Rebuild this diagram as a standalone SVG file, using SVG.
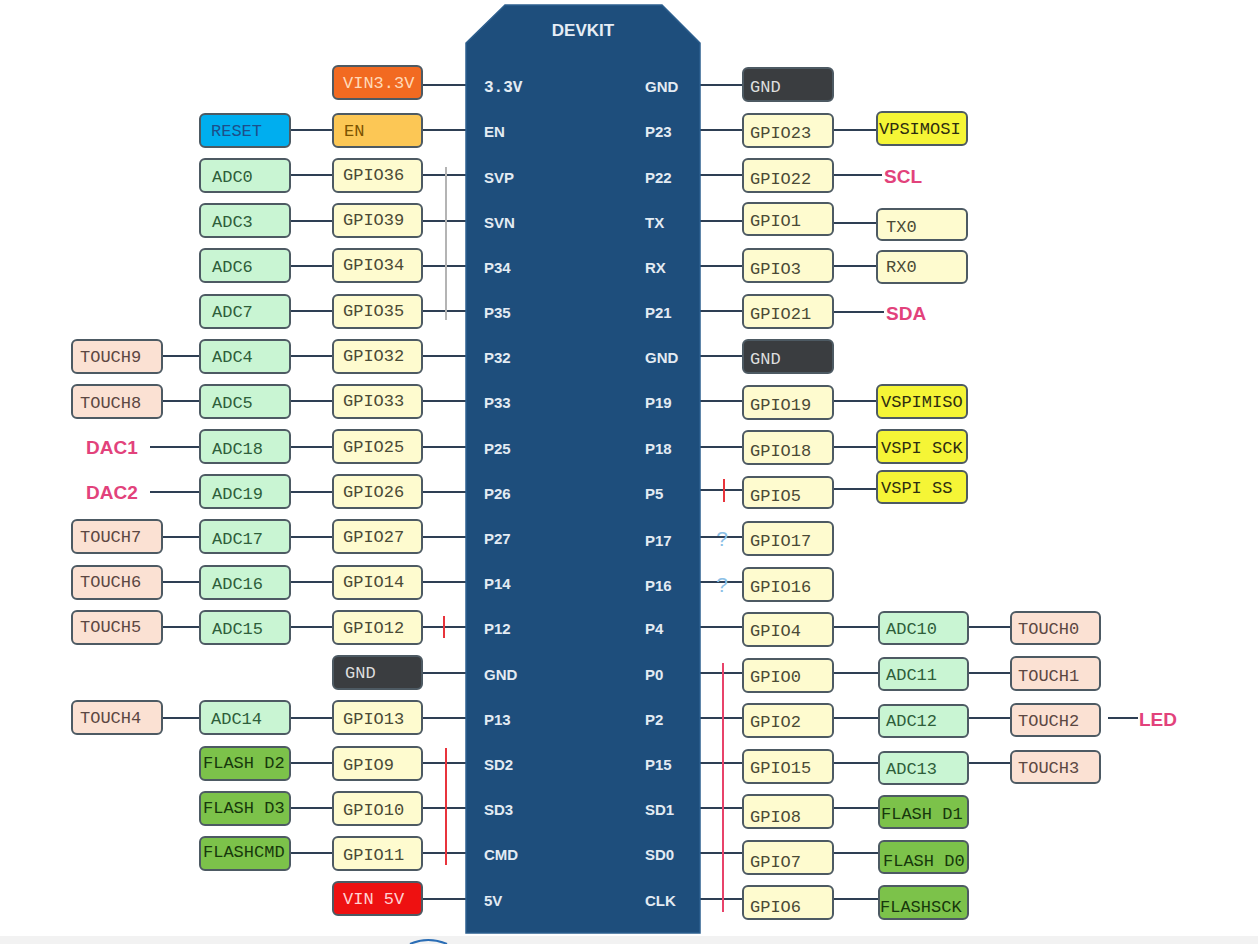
<svg xmlns="http://www.w3.org/2000/svg" width="1258" height="944" viewBox="0 0 1258 944">
<style>
.b{stroke:#4d5a63;stroke-width:2}
.t{font-family:"Liberation Mono",monospace;font-size:17px}
.pl{font-family:"Liberation Sans",Arial,sans-serif;font-size:15px;font-weight:bold;fill:#e3ebf3}
.pm{font-family:"Liberation Mono",monospace;font-size:16px;font-weight:bold;fill:#e3ebf3}
.pk{font-family:"Liberation Sans",Arial,sans-serif;font-size:19px;font-weight:bold;fill:#e2427b}
.q{font-family:"Liberation Sans",Arial,sans-serif;font-size:21px;fill:#8cc0e6}
.gpio{fill:#fefbcf}.gpiot{fill:#4a4a36}
.adc{fill:#c9f5d3}.adct{fill:#2e5e3a}
.tch{fill:#fbe1d3}.tcht{fill:#5b4742}
.fl{fill:#7cc24a}.flt{fill:#17380c}
.vs{fill:#f5f536}.vst{fill:#2d2d10}
.gnd{fill:#3a3d40}.gndt{fill:#dedede}
.c line{stroke:#2e3f54;stroke-width:2}
</style>
<rect width="1258" height="944" fill="#ffffff"/>
<rect x="0" y="936" width="1258" height="8" fill="#f2f2f2"/>
<path d="M410,944 Q428,936 447,944" fill="none" stroke="#2a6db5" stroke-width="2"/>

<g id="connectors" class="c">
<line x1="422" y1="85" x2="466" y2="85"/>
<line x1="290" y1="130" x2="333" y2="130"/><line x1="422" y1="130" x2="466" y2="130"/>
<line x1="290" y1="175" x2="333" y2="175"/><line x1="422" y1="175" x2="466" y2="175"/>
<line x1="290" y1="221" x2="333" y2="221"/><line x1="422" y1="221" x2="466" y2="221"/>
<line x1="290" y1="266" x2="333" y2="266"/><line x1="422" y1="266" x2="466" y2="266"/>
<line x1="290" y1="311" x2="333" y2="311"/><line x1="422" y1="311" x2="466" y2="311"/>
<line x1="162" y1="356" x2="200" y2="356"/><line x1="290" y1="356" x2="333" y2="356"/><line x1="422" y1="356" x2="466" y2="356"/>
<line x1="162" y1="401" x2="200" y2="401"/><line x1="290" y1="401" x2="333" y2="401"/><line x1="422" y1="401" x2="466" y2="401"/>
<line x1="150" y1="447" x2="200" y2="447"/><line x1="290" y1="447" x2="333" y2="447"/><line x1="422" y1="447" x2="466" y2="447"/>
<line x1="150" y1="492" x2="200" y2="492"/><line x1="290" y1="492" x2="333" y2="492"/><line x1="422" y1="492" x2="466" y2="492"/>
<line x1="162" y1="537" x2="200" y2="537"/><line x1="290" y1="537" x2="333" y2="537"/><line x1="422" y1="537" x2="466" y2="537"/>
<line x1="162" y1="582" x2="200" y2="582"/><line x1="290" y1="582" x2="333" y2="582"/><line x1="422" y1="582" x2="466" y2="582"/>
<line x1="162" y1="627" x2="200" y2="627"/><line x1="290" y1="627" x2="333" y2="627"/><line x1="422" y1="627" x2="466" y2="627"/>
<line x1="422" y1="673" x2="466" y2="673"/>
<line x1="162" y1="718" x2="200" y2="718"/><line x1="290" y1="718" x2="333" y2="718"/><line x1="422" y1="718" x2="466" y2="718"/>
<line x1="290" y1="763" x2="333" y2="763"/><line x1="422" y1="763" x2="466" y2="763"/>
<line x1="290" y1="808" x2="333" y2="808"/><line x1="422" y1="808" x2="466" y2="808"/>
<line x1="290" y1="853" x2="333" y2="853"/><line x1="422" y1="853" x2="466" y2="853"/>
<line x1="422" y1="899" x2="466" y2="899"/>

<line x1="700" y1="85" x2="743" y2="85"/>
<line x1="700" y1="130" x2="743" y2="130"/><line x1="833" y1="130" x2="877" y2="130"/>
<line x1="700" y1="175" x2="743" y2="175"/><line x1="833" y1="175" x2="882" y2="175"/>
<line x1="700" y1="221" x2="743" y2="221"/><line x1="833" y1="223" x2="877" y2="223"/>
<line x1="700" y1="266" x2="743" y2="266"/><line x1="833" y1="266" x2="877" y2="266"/>
<line x1="700" y1="311" x2="743" y2="311"/><line x1="833" y1="312" x2="884" y2="312"/>
<line x1="700" y1="356" x2="743" y2="356"/>
<line x1="700" y1="401" x2="743" y2="401"/><line x1="833" y1="401" x2="877" y2="401"/>
<line x1="700" y1="447" x2="743" y2="447"/><line x1="833" y1="447" x2="877" y2="447"/>
<line x1="700" y1="490" x2="743" y2="490"/><line x1="833" y1="489" x2="877" y2="489"/>
<line x1="700" y1="537" x2="743" y2="537"/>
<line x1="700" y1="582" x2="743" y2="582"/>
<line x1="700" y1="627" x2="743" y2="627"/><line x1="833" y1="627" x2="879" y2="627"/><line x1="968" y1="627" x2="1011" y2="627"/>
<line x1="700" y1="673" x2="743" y2="673"/><line x1="833" y1="673" x2="879" y2="673"/><line x1="968" y1="673" x2="1011" y2="673"/>
<line x1="700" y1="718" x2="743" y2="718"/><line x1="833" y1="718" x2="879" y2="718"/><line x1="968" y1="718" x2="1011" y2="718"/><line x1="1108" y1="718" x2="1138" y2="718"/>
<line x1="700" y1="763" x2="743" y2="763"/><line x1="833" y1="763" x2="879" y2="763"/><line x1="968" y1="763" x2="1011" y2="763"/>
<line x1="700" y1="808" x2="743" y2="808"/><line x1="833" y1="808" x2="879" y2="808"/>
<line x1="700" y1="853" x2="743" y2="853"/><line x1="833" y1="853" x2="879" y2="853"/>
<line x1="700" y1="899" x2="743" y2="899"/><line x1="833" y1="899" x2="879" y2="899"/>
</g>

<g id="markers">
<line x1="446" y1="167" x2="446" y2="320" stroke="#b4b4b4" stroke-width="2"/>
<line x1="444" y1="616" x2="444" y2="638" stroke="#e8343c" stroke-width="2"/>
<line x1="446" y1="748" x2="446" y2="865" stroke="#e8343c" stroke-width="2"/>
<line x1="724" y1="479" x2="724" y2="502" stroke="#e8343c" stroke-width="2"/>
<line x1="723" y1="663" x2="723" y2="912" stroke="#e8436a" stroke-width="2"/>
<text class="q" x="722" y="546" text-anchor="middle">?</text>
<text class="q" x="722" y="592" text-anchor="middle">?</text>
</g>

<g id="board">
<polygon points="505,5 662,5 700,43 700,933 466,933 466,43" fill="#1e4e7c" stroke="#2d5f8e" stroke-width="1.5"/>
<text x="583" y="36" font-family="Liberation Sans,Arial,sans-serif" font-size="17" font-weight="bold" fill="#e6edf5" text-anchor="middle">DEVKIT</text>
<text class="pm" x="484" y="92">3.3V</text>
<text class="pl" x="484" y="137">EN</text>
<text class="pl" x="484" y="183">SVP</text>
<text class="pl" x="484" y="228">SVN</text>
<text class="pl" x="484" y="273">P34</text>
<text class="pl" x="484" y="318">P35</text>
<text class="pl" x="484" y="363">P32</text>
<text class="pl" x="484" y="408">P33</text>
<text class="pl" x="484" y="454">P25</text>
<text class="pl" x="484" y="499">P26</text>
<text class="pl" x="484" y="544">P27</text>
<text class="pl" x="484" y="589">P14</text>
<text class="pl" x="484" y="634">P12</text>
<text class="pl" x="484" y="680">GND</text>
<text class="pl" x="484" y="725">P13</text>
<text class="pl" x="484" y="770">SD2</text>
<text class="pl" x="484" y="815">SD3</text>
<text class="pl" x="484" y="860">CMD</text>
<text class="pl" x="484" y="906">5V</text>
<text class="pl" x="645" y="92">GND</text>
<text class="pl" x="645" y="137">P23</text>
<text class="pl" x="645" y="183">P22</text>
<text class="pl" x="645" y="228">TX</text>
<text class="pl" x="645" y="273">RX</text>
<text class="pl" x="645" y="318">P21</text>
<text class="pl" x="645" y="363">GND</text>
<text class="pl" x="645" y="408">P19</text>
<text class="pl" x="645" y="454">P18</text>
<text class="pl" x="645" y="499">P5</text>
<text class="pl" x="645" y="546">P17</text>
<text class="pl" x="645" y="591">P16</text>
<text class="pl" x="645" y="634">P4</text>
<text class="pl" x="645" y="680">P0</text>
<text class="pl" x="645" y="725">P2</text>
<text class="pl" x="645" y="770">P15</text>
<text class="pl" x="645" y="815">SD1</text>
<text class="pl" x="645" y="860">SD0</text>
<text class="pl" x="645" y="906">CLK</text>
</g>

<!-- left GPIO column -->
<g id="vin33"><rect class="b" x="333" y="66" width="89" height="33" rx="5" fill="#f26a21"/><text class="t" x="343" y="88" fill="#ffd9b8">VIN3.3V</text></g>
<g id="en"><rect class="b" x="333" y="114" width="89" height="33" rx="5" fill="#fcc755"/><text class="t" x="344" y="136" fill="#7b5200">EN</text></g>
<g id="gpio36"><rect class="b gpio" x="333" y="159" width="89" height="33" rx="5"/><text class="t gpiot" x="343" y="180">GPIO36</text></g>
<g id="gpio39"><rect class="b gpio" x="333" y="204" width="89" height="33" rx="5"/><text class="t gpiot" x="343" y="225">GPIO39</text></g>
<g id="gpio34"><rect class="b gpio" x="333" y="249" width="89" height="33" rx="5"/><text class="t gpiot" x="343" y="270">GPIO34</text></g>
<g id="gpio35"><rect class="b gpio" x="333" y="295" width="89" height="33" rx="5"/><text class="t gpiot" x="343" y="316">GPIO35</text></g>
<g id="gpio32"><rect class="b gpio" x="333" y="340" width="89" height="33" rx="5"/><text class="t gpiot" x="343" y="361">GPIO32</text></g>
<g id="gpio33"><rect class="b gpio" x="333" y="385" width="89" height="33" rx="5"/><text class="t gpiot" x="343" y="406">GPIO33</text></g>
<g id="gpio25"><rect class="b gpio" x="333" y="430" width="89" height="33" rx="5"/><text class="t gpiot" x="343" y="452">GPIO25</text></g>
<g id="gpio26"><rect class="b gpio" x="333" y="475" width="89" height="33" rx="5"/><text class="t gpiot" x="343" y="497">GPIO26</text></g>
<g id="gpio27"><rect class="b gpio" x="333" y="520" width="89" height="33" rx="5"/><text class="t gpiot" x="343" y="542">GPIO27</text></g>
<g id="gpio14"><rect class="b gpio" x="333" y="566" width="89" height="33" rx="5"/><text class="t gpiot" x="343" y="587">GPIO14</text></g>
<g id="gpio12"><rect class="b gpio" x="333" y="611" width="89" height="33" rx="5"/><text class="t gpiot" x="343" y="633">GPIO12</text></g>
<g id="gnd-left"><rect class="b gnd" x="333" y="656" width="89" height="33" rx="5" stroke="#3a3d40"/><text class="t gndt" x="345" y="678">GND</text></g>
<g id="gpio13"><rect class="b gpio" x="333" y="701" width="89" height="33" rx="5"/><text class="t gpiot" x="343" y="724">GPIO13</text></g>
<g id="gpio9"><rect class="b gpio" x="333" y="747" width="89" height="33" rx="5"/><text class="t gpiot" x="343" y="770">GPIO9</text></g>
<g id="gpio10"><rect class="b gpio" x="333" y="792" width="89" height="33" rx="5"/><text class="t gpiot" x="343" y="815">GPIO10</text></g>
<g id="gpio11"><rect class="b gpio" x="333" y="837" width="89" height="33" rx="5"/><text class="t gpiot" x="343" y="860">GPIO11</text></g>
<g id="vin5"><rect class="b" x="333" y="882" width="89" height="33" rx="5" fill="#ee1111"/><text class="t" x="343" y="904" fill="#ffd2d2">VIN 5V</text></g>

<!-- left ADC column -->
<g id="reset"><rect class="b" x="200" y="114" width="90" height="33" rx="5" fill="#00aeef"/><text class="t" x="211" y="136" fill="#1d4e8a">RESET</text></g>
<g id="adc0"><rect class="b adc" x="200" y="159" width="90" height="33" rx="5"/><text class="t adct" x="212" y="182">ADC0</text></g>
<g id="adc3"><rect class="b adc" x="200" y="204" width="90" height="33" rx="5"/><text class="t adct" x="212" y="227">ADC3</text></g>
<g id="adc6"><rect class="b adc" x="200" y="249" width="90" height="33" rx="5"/><text class="t adct" x="212" y="272">ADC6</text></g>
<g id="adc7"><rect class="b adc" x="200" y="295" width="90" height="33" rx="5"/><text class="t adct" x="212" y="317">ADC7</text></g>
<g id="adc4"><rect class="b adc" x="200" y="340" width="90" height="33" rx="5"/><text class="t adct" x="212" y="362">ADC4</text></g>
<g id="adc5"><rect class="b adc" x="200" y="385" width="90" height="33" rx="5"/><text class="t adct" x="212" y="408">ADC5</text></g>
<g id="adc18"><rect class="b adc" x="200" y="430" width="90" height="33" rx="5"/><text class="t adct" x="212" y="454">ADC18</text></g>
<g id="adc19"><rect class="b adc" x="200" y="475" width="90" height="33" rx="5"/><text class="t adct" x="212" y="499">ADC19</text></g>
<g id="adc17"><rect class="b adc" x="200" y="520" width="90" height="33" rx="5"/><text class="t adct" x="212" y="544">ADC17</text></g>
<g id="adc16"><rect class="b adc" x="200" y="566" width="90" height="33" rx="5"/><text class="t adct" x="212" y="589">ADC16</text></g>
<g id="adc15"><rect class="b adc" x="200" y="611" width="90" height="33" rx="5"/><text class="t adct" x="212" y="634">ADC15</text></g>
<g id="adc14"><rect class="b adc" x="200" y="701" width="90" height="33" rx="5"/><text class="t adct" x="211" y="724">ADC14</text></g>
<g id="flashd2"><rect class="b fl" x="200" y="747" width="90" height="33" rx="5"/><text class="t flt" x="203" y="768">FLASH D2</text></g>
<g id="flashd3"><rect class="b fl" x="200" y="792" width="90" height="33" rx="5"/><text class="t flt" x="203" y="813">FLASH D3</text></g>
<g id="flashcmd"><rect class="b fl" x="200" y="837" width="90" height="33" rx="5"/><text class="t flt" x="203" y="857">FLASHCMD</text></g>

<!-- left TOUCH column / DAC labels -->
<g id="touch9"><rect class="b tch" x="72" y="340" width="90" height="33" rx="5"/><text class="t tcht" x="80" y="362">TOUCH9</text></g>
<g id="touch8"><rect class="b tch" x="72" y="385" width="90" height="33" rx="5"/><text class="t tcht" x="80" y="408">TOUCH8</text></g>
<g id="dac1"><text class="pk" x="86" y="454">DAC1</text></g>
<g id="dac2"><text class="pk" x="86" y="499">DAC2</text></g>
<g id="touch7"><rect class="b tch" x="72" y="520" width="90" height="33" rx="5"/><text class="t tcht" x="80" y="542">TOUCH7</text></g>
<g id="touch6"><rect class="b tch" x="72" y="566" width="90" height="33" rx="5"/><text class="t tcht" x="80" y="587">TOUCH6</text></g>
<g id="touch5"><rect class="b tch" x="72" y="611" width="90" height="33" rx="5"/><text class="t tcht" x="80" y="632">TOUCH5</text></g>
<g id="touch4"><rect class="b tch" x="72" y="701" width="90" height="33" rx="5"/><text class="t tcht" x="80" y="723">TOUCH4</text></g>

<!-- right GPIO column -->
<g id="gnd-r1"><rect class="b gnd" x="743" y="68" width="90" height="33" rx="5" stroke="#3a3d40"/><text class="t gndt" x="750" y="92">GND</text></g>
<g id="gpio23"><rect class="b gpio" x="743" y="114" width="90" height="33" rx="5"/><text class="t gpiot" x="750" y="138">GPIO23</text></g>
<g id="gpio22"><rect class="b gpio" x="743" y="159" width="90" height="33" rx="5"/><text class="t gpiot" x="750" y="184">GPIO22</text></g>
<g id="gpio1"><rect class="b gpio" x="743" y="203" width="90" height="32" rx="5"/><text class="t gpiot" x="750" y="226">GPIO1</text></g>
<g id="gpio3"><rect class="b gpio" x="743" y="249" width="90" height="33" rx="5"/><text class="t gpiot" x="750" y="274">GPIO3</text></g>
<g id="gpio21"><rect class="b gpio" x="743" y="295" width="90" height="33" rx="5"/><text class="t gpiot" x="750" y="319">GPIO21</text></g>
<g id="gnd-r2"><rect class="b gnd" x="743" y="340" width="90" height="33" rx="5" stroke="#3a3d40"/><text class="t gndt" x="750" y="364">GND</text></g>
<g id="gpio19"><rect class="b gpio" x="743" y="386" width="90" height="33" rx="5"/><text class="t gpiot" x="750" y="410">GPIO19</text></g>
<g id="gpio18"><rect class="b gpio" x="743" y="431" width="90" height="33" rx="5"/><text class="t gpiot" x="750" y="456">GPIO18</text></g>
<g id="gpio5"><rect class="b gpio" x="743" y="477" width="90" height="31" rx="5"/><text class="t gpiot" x="750" y="501">GPIO5</text></g>
<g id="gpio17"><rect class="b gpio" x="743" y="522" width="90" height="33" rx="5"/><text class="t gpiot" x="750" y="546">GPIO17</text></g>
<g id="gpio16"><rect class="b gpio" x="743" y="568" width="90" height="33" rx="5"/><text class="t gpiot" x="750" y="592">GPIO16</text></g>
<g id="gpio4"><rect class="b gpio" x="743" y="613" width="90" height="33" rx="5"/><text class="t gpiot" x="750" y="636">GPIO4</text></g>
<g id="gpio0"><rect class="b gpio" x="743" y="659" width="90" height="33" rx="5"/><text class="t gpiot" x="750" y="682">GPIO0</text></g>
<g id="gpio2"><rect class="b gpio" x="743" y="704" width="90" height="33" rx="5"/><text class="t gpiot" x="750" y="727">GPIO2</text></g>
<g id="gpio15"><rect class="b gpio" x="743" y="750" width="90" height="33" rx="5"/><text class="t gpiot" x="750" y="773">GPIO15</text></g>
<g id="gpio8"><rect class="b gpio" x="743" y="795" width="90" height="33" rx="5"/><text class="t gpiot" x="750" y="822">GPIO8</text></g>
<g id="gpio7"><rect class="b gpio" x="743" y="841" width="90" height="33" rx="5"/><text class="t gpiot" x="750" y="867">GPIO7</text></g>
<g id="gpio6"><rect class="b gpio" x="743" y="886" width="90" height="33" rx="5"/><text class="t gpiot" x="750" y="912">GPIO6</text></g>

<!-- right third column -->
<g id="vpsimosi"><rect class="b vs" x="877" y="112" width="90" height="33" rx="5"/><text class="t vst" x="879" y="134">VPSIMOSI</text></g>
<g id="scl"><text class="pk" x="884" y="183">SCL</text></g>
<g id="tx0"><rect class="b gpio" x="877" y="209" width="90" height="31" rx="5"/><text class="t gpiot" x="886" y="232">TX0</text></g>
<g id="rx0"><rect class="b gpio" x="877" y="251" width="90" height="32" rx="5"/><text class="t gpiot" x="886" y="272">RX0</text></g>
<g id="sda"><text class="pk" x="886" y="320">SDA</text></g>
<g id="vspimiso"><rect class="b vs" x="877" y="385" width="90" height="33" rx="5"/><text class="t vst" x="881" y="407">VSPIMISO</text></g>
<g id="vspisck"><rect class="b vs" x="877" y="430" width="90" height="33" rx="5"/><text class="t vst" x="881" y="453">VSPI SCK</text></g>
<g id="vspiss"><rect class="b vs" x="877" y="471" width="90" height="32" rx="5"/><text class="t vst" x="881" y="493">VSPI SS</text></g>
<g id="adc10"><rect class="b adc" x="879" y="612" width="89" height="32" rx="5"/><text class="t adct" x="886" y="634">ADC10</text></g>
<g id="adc11"><rect class="b adc" x="879" y="658" width="89" height="32" rx="5"/><text class="t adct" x="886" y="680">ADC11</text></g>
<g id="adc12"><rect class="b adc" x="879" y="705" width="89" height="32" rx="5"/><text class="t adct" x="886" y="726">ADC12</text></g>
<g id="adc13"><rect class="b adc" x="879" y="752" width="89" height="32" rx="5"/><text class="t adct" x="886" y="774">ADC13</text></g>
<g id="flashd1"><rect class="b fl" x="879" y="796" width="89" height="32" rx="5"/><text class="t flt" x="881" y="819">FLASH D1</text></g>
<g id="flashd0"><rect class="b fl" x="879" y="841" width="89" height="32" rx="5"/><text class="t flt" x="883" y="866">FLASH D0</text></g>
<g id="flashsck"><rect class="b fl" x="879" y="886" width="89" height="33" rx="5"/><text class="t flt" x="880" y="912">FLASHSCK</text></g>

<!-- right TOUCH column -->
<g id="touch0"><rect class="b tch" x="1011" y="612" width="89" height="32" rx="5"/><text class="t tcht" x="1018" y="634">TOUCH0</text></g>
<g id="touch1"><rect class="b tch" x="1011" y="657" width="89" height="33" rx="5"/><text class="t tcht" x="1018" y="681">TOUCH1</text></g>
<g id="touch2"><rect class="b tch" x="1011" y="704" width="89" height="32" rx="5"/><text class="t tcht" x="1018" y="726">TOUCH2</text></g>
<g id="touch3"><rect class="b tch" x="1011" y="751" width="89" height="32" rx="5"/><text class="t tcht" x="1018" y="773">TOUCH3</text></g>
<g id="led"><text class="pk" x="1139" y="726" font-weight="normal">LED</text></g>
</svg>
